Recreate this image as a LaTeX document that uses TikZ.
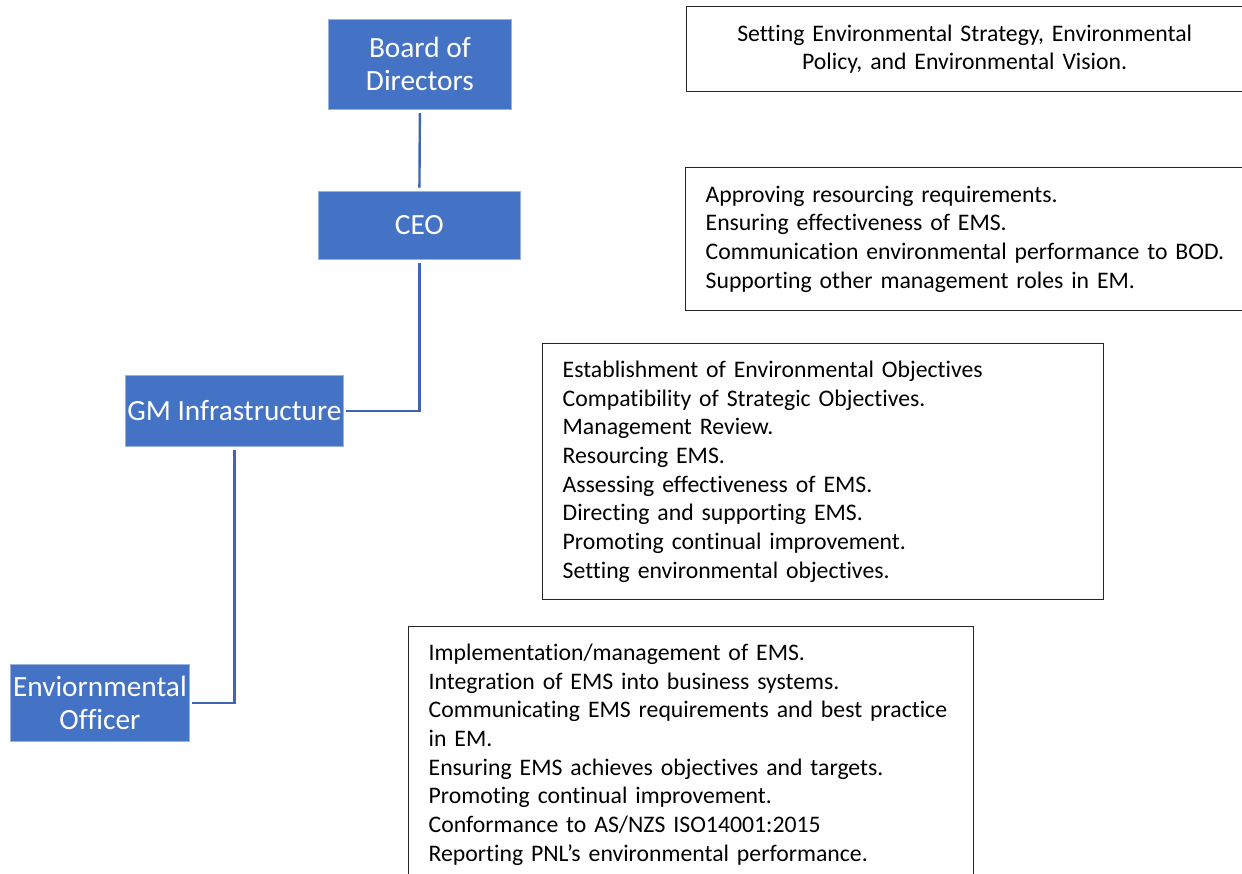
\documentclass[tikz,border=0pt]{standalone}
\usepackage{fontspec}
\setmainfont{Carlito}[Ligatures=NoCommon]
\definecolor{officeblue}{HTML}{4472C4}
\definecolor{linkblue}{HTML}{3E64B3}
\begin{document}
\begin{tikzpicture}[x=0.75pt,y=-0.75pt,
  rolebox/.style={fill=officeblue,draw=officeblue!55!white,line width=0.6pt,text=white,
    font=\fontsize{22}{24.75}\selectfont,align=center,inner sep=0pt,anchor=north west},
  dutybox/.style={draw=black!85,line width=1pt,font=\fontsize{17.8}{21.5}\selectfont,
    inner xsep=15pt,inner ysep=0pt,anchor=north west},
  link/.style={draw=linkblue,line width=1.8pt}]
\useasboundingbox (0,0) rectangle (1242,874);
\begin{scope}
\clip (0,0) rectangle (1242,874);
% blue role boxes
\node[rolebox,minimum width=137.25pt,minimum height=67.5pt] (bod) at (328,19) {Board of\\Directors};
\node[rolebox,minimum width=151.5pt,minimum height=51pt] (ceo) at (318,191) {CEO};
\node[rolebox,minimum width=163.5pt,minimum height=53.25pt] (gm) at (125,375) {GM Infrastructure};
\node[rolebox,minimum width=134.25pt,minimum height=57.75pt] (env) at (10,664) {Enviornmental\\Officer};
% connectors
\draw[link,shorten <=2.5pt,shorten >=2.5pt] (bod.south) -- (ceo.north);
\draw[link,shorten <=2.5pt,shorten >=1.5pt] (ceo.south) |- (gm.east);
\draw[link,shorten <=2.5pt,shorten >=1.5pt] (gm.south) |- (env.east);
% duty boxes
\node[dutybox,minimum width=417pt,minimum height=63.75pt,text width=387pt,align=center] (d1) at (686,6)
  {Setting Environmental Strategy, Environmental\\Policy, and Environmental Vision.};
\node[dutybox,minimum width=417.75pt,minimum height=107.25pt,text width=410pt,align=left] (d2) at (685,167)
  {Approving resourcing requirements.\\
   Ensuring effectiveness of EMS.\\
   Communication environmental performance to BOD.\\
   Supporting other management roles in EM.};
\node[dutybox,minimum width=420.75pt,minimum height=192pt,text width=390.75pt,align=left] (d3) at (542,343)
  {Establishment of Environmental Objectives\\
   Compatibility of Strategic Objectives.\\
   Management Review.\\
   Resourcing EMS.\\
   Assessing effectiveness of EMS.\\
   Directing and supporting EMS.\\
   Promoting continual improvement.\\
   Setting environmental objectives.};
\node[dutybox,minimum width=423.75pt,minimum height=192pt,text width=393.75pt,align=left] (d4) at (408,626)
  {Implementation/management of EMS.\\
   Integration of EMS into business systems.\\
   Communicating EMS requirements and best practice\\
   in EM.\\
   Ensuring EMS achieves objectives and targets.\\
   Promoting continual improvement.\\
   Conformance to AS/NZS ISO14001:2015\\
   Reporting PNL’s environmental performance.};
\end{scope}
\end{tikzpicture}
\end{document}
